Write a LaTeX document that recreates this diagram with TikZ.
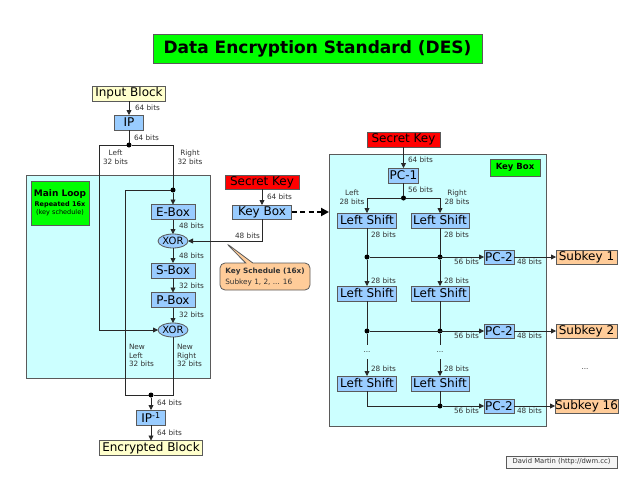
\documentclass[tikz,border=0pt]{standalone}
\usepackage{fontspec}
\setmainfont{DejaVu Sans}
\usepackage{xcolor}
\usepackage{tikz}
\usetikzlibrary{positioning}
\usetikzlibrary{shapes.geometric,shapes.callouts,arrows.meta}
\definecolor{mycyan}{RGB}{204,255,255}
\definecolor{mybluei}{RGB}{153,204,255}
\definecolor{myyellow}{RGB}{255,255,204}
\definecolor{myorange}{RGB}{255,204,153}
\definecolor{mygreen}{RGB}{0,255,0}
\definecolor{myred}{RGB}{255,0,0}
\definecolor{myborder}{RGB}{90,90,90}
\definecolor{myline}{RGB}{40,40,40}
\definecolor{mytext}{RGB}{50,50,50}

\begin{document}
\begin{tikzpicture}[x=1pt,y=-1pt,outer sep=0pt,
blueb/.style={
  draw=myborder,
  fill=mybluei,
  line width=0.8pt,
  font=\fontsize{12}{12}\selectfont,
  inner sep=0pt,
  minimum height=15pt},
yellowb/.style={blueb,fill=myyellow},
redb/.style={blueb,fill=myred},
orangeb/.style={blueb,fill=myorange},
greenb/.style={blueb,fill=mygreen,align=center},
xorell/.style={blueb,ellipse,minimum width=30pt,minimum height=14pt,
  font=\fontsize{10}{10}\selectfont},
region/.style={draw=myborder,fill=mycyan,line width=0.8pt,inner sep=0pt},
bits/.style={font=\fontsize{7.3}{8.6}\selectfont,text=mytext,inner sep=0pt},
dot/.style={circle,fill=black,inner sep=0pt,minimum size=5pt},
link/.style={draw=myline,line width=0.8pt},
arr/.style={link,-{Triangle[length=5pt,width=5pt]}},
dasharr/.style={draw=black,line width=2pt,dash pattern=on 5pt off 3.5pt,
  -{Triangle[length=8pt,width=8pt]}},
]
\useasboundingbox (0,0) rectangle (627,480);
\node[greenb,minimum width=329pt,minimum height=29pt,
  font=\fontsize{17}{17}\selectfont\bfseries] (title) at (317.5,48.5) {Data Encryption Standard (DES)};

% main loop
\node[region,minimum width=184pt,minimum height=203pt] (loop) at (118,276.5) {};
\node[greenb,minimum width=58pt,minimum height=44pt,font=\fontsize{6.5}{8}\selectfont] (looplbl) at (60,203)
  {{\fontsize{9}{11}\selectfont\bfseries Main Loop}\\[2pt]\textbf{Repeated 16x}\\(key schedule)};
\node[yellowb,minimum width=73pt] (inp) at (129,93.5) {Input Block};
\node[blueb,minimum width=29pt] (ip) at (129,122.5) {IP};
\node[dot] (split) at (129,145) {};
\coordinate (lcorner) at (99,145);
\node[dot] (rdot) at (173,190) {};
\coordinate (loopt) at (125,190);
\coordinate (loopb) at (125,395);
\node[blueb,minimum width=44pt] (ebox) at (173,212) {E-Box};
\node[xorell] (xora) at (173,241) {XOR};
\node[blueb,minimum width=44pt] (sbox) at (173,270.5) {S-Box};
\node[blueb,minimum width=44pt] (pbox) at (173,300) {P-Box};
\node[xorell] (xorb) at (173,330) {XOR};
\node[dot] (join) at (151,395) {};
\node[blueb,minimum width=29pt] (ipinv) at (151,417.5) {IP\textsuperscript{-1}};
\node[yellowb,minimum width=103pt] (enc) at (151,448) {Encrypted Block};

\draw[arr] (inp) -- (ip);
\draw[link] (ip) -- (split);
\draw[arr] (split) -- (lcorner) |- (xorb);
\draw[link] (split) -| (rdot);
\draw[arr] (rdot) -- (ebox);
\draw[link] (rdot) -- (loopt) -- (loopb) -- (join);
\draw[arr] (ebox) -- (xora);
\draw[arr] (xora) -- (sbox);
\draw[arr] (sbox) -- (pbox);
\draw[arr] (pbox) -- (xorb);
\draw[link] (xorb) |- (join);
\draw[arr] (join) -- (ipinv);
\draw[arr] (ipinv) -- (enc);

\node[bits,anchor=west] at (135,108) {64 bits};
\node[bits,anchor=west] at (134,138) {64 bits};
\node[bits,align=center] at (115.5,157) {Left\\32 bits};
\node[bits,align=center] at (190,157) {Right\\32 bits};
\node[bits,anchor=west] at (179,226) {48 bits};
\node[bits,anchor=west] at (179,256) {48 bits};
\node[bits,anchor=west] at (179,285.5) {32 bits};
\node[bits,anchor=west] at (179,315) {32 bits};
\node[bits,align=left,anchor=west] at (129,355.5) {New\\Left\\32 bits};
\node[bits,align=left,anchor=west] at (177,355.5) {New\\Right\\32 bits};
\node[bits,anchor=west] at (157,403) {64 bits};
\node[bits,anchor=west] at (157,433) {64 bits};

% key box link
\node[redb,minimum width=74pt,minimum height=14pt] (skeya) at (262,182) {Secret Key};
\node[blueb,minimum width=59pt,minimum height=14pt] (kbox) at (262,212) {Key Box};
\draw[arr] (skeya) -- (kbox);
\draw[arr] (kbox) |- (xora);
\node[bits,anchor=west] at (267,197) {64 bits};
\node[bits,anchor=east] at (260,236) {48 bits};
\node[rectangle callout,callout absolute pointer={(226,243)},draw=myborder,fill=myorange,
  line width=0.8pt,rounded corners=5pt,minimum width=90pt,minimum height=27pt,
  align=left,font=\fontsize{7.3}{11}\selectfont,text=mytext] (sched) at (265,276.5)
  {\textbf{Key Schedule (16x)}\\Subkey 1, 2, ... 16};

% key schedule
\node[region,minimum width=217pt,minimum height=272pt] (keyreg) at (437.5,290) {};
\draw[dasharr] (kbox) -- (kbox -| keyreg.west);
\node[greenb,minimum width=50pt,minimum height=17pt,font=\fontsize{8.5}{9}\selectfont\bfseries] (keylbl) at (515,167.5) {Key Box};
\node[redb,minimum width=73pt] (skeyb) at (403.5,139.5) {Secret Key};
\node[blueb,minimum width=30pt] (pc1) at (403.5,175.5) {PC-1};
\node[dot] (kdot) at (403.5,198) {};
\node[blueb,minimum width=59pt] (lsa) at (367,220.5) {Left Shift};
\node[blueb,minimum width=58pt] (rsa) at (440,220.5) {Left Shift};
\node[dot] (lda) at (367,257) {};
\node[dot] (rda) at (440,257) {};
\node[blueb,minimum width=30pt,minimum height=14pt] (pca) at (499,257) {PC-2};
\node[orangeb,minimum width=61pt,minimum height=14pt] (suba) at (586.5,257) {Subkey 1};
\node[blueb,minimum width=59pt] (lsb) at (367,293.5) {Left Shift};
\node[blueb,minimum width=58pt] (rsb) at (440,293.5) {Left Shift};
\node[dot] (ldb) at (367,331) {};
\node[dot] (rdb) at (440,331) {};
\node[blueb,minimum width=30pt,minimum height=14pt] (pcb) at (499,331) {PC-2};
\node[orangeb,minimum width=61pt,minimum height=14pt] (subb) at (586.5,331) {Subkey 2};
\node[bits,minimum height=14pt] (ldots) at (367,352) {...};
\node[bits,minimum height=14pt] (rdots) at (440,352) {...};
\node[blueb,minimum width=59pt] (lsc) at (367,383.5) {Left Shift};
\node[blueb,minimum width=58pt] (rsc) at (440,383.5) {Left Shift};
\node[dot] (rdc) at (440,406) {};
\node[blueb,minimum width=30pt,minimum height=14pt] (pcc) at (499,406) {PC-2};
\node[orangeb,minimum width=61pt,minimum height=14pt] (subc) at (586.5,406) {Subkey 16};
\node[bits] (sdots) at (585,369) {...};

\draw[arr] (skeyb) -- (pc1);
\draw[link] (pc1) -- (kdot);
\draw[arr] (kdot) -| (lsa);
\draw[arr] (kdot) -| (rsa);
\draw[link] (lsa) -- (lda);
\draw[link] (rsa) -- (rda);
\draw[arr] (lda) -- (pca);
\draw[arr] (pca) -- (suba);
\draw[arr] (lda) -- (lsb);
\draw[arr] (rda) -- (rsb);
\draw[link] (lsb) -- (ldb);
\draw[link] (rsb) -- (rdb);
\draw[arr] (ldb) -- (pcb);
\draw[arr] (pcb) -- (subb);
\draw[link] (ldb) -- (ldots);
\draw[link] (rdb) -- (rdots);
\draw[arr] (ldots) -- (lsc);
\draw[arr] (rdots) -- (rsc);
\draw[link] (lsc) |- (rdc);
\draw[link] (rsc) -- (rdc);
\draw[arr] (rdc) -- (pcc);
\draw[arr] (pcc) -- (subc);

\node[bits,anchor=west] at (408,160) {64 bits};
\node[bits,anchor=west] at (408,190) {56 bits};
\node[bits,align=center] at (352,197) {Left\\28 bits};
\node[bits,align=center] at (457,197) {Right\\28 bits};
\node[bits,anchor=west] at (371,235) {28 bits};
\node[bits,anchor=west] at (444,235) {28 bits};
\node[bits,anchor=west] at (371,281) {28 bits};
\node[bits,anchor=west] at (444,281) {28 bits};
\node[bits,anchor=west] at (371,369) {28 bits};
\node[bits,anchor=west] at (444,369) {28 bits};
\node[bits,anchor=east] at (479,262) {56 bits};
\node[bits,anchor=west] at (517,262) {48 bits};
\node[bits,anchor=east] at (479,336) {56 bits};
\node[bits,anchor=west] at (517,336) {48 bits};
\node[bits,anchor=east] at (479,411) {56 bits};
\node[bits,anchor=west] at (517,411) {48 bits};

\node[draw=myborder,fill=gray!8,line width=1pt,inner sep=0pt,minimum width=111pt,minimum height=12pt,
  font=\fontsize{6.8}{7}\selectfont,text=mytext] (credit) at (561.5,462) {David Martin (http://dwm.cc)};
\end{tikzpicture}
\end{document}
